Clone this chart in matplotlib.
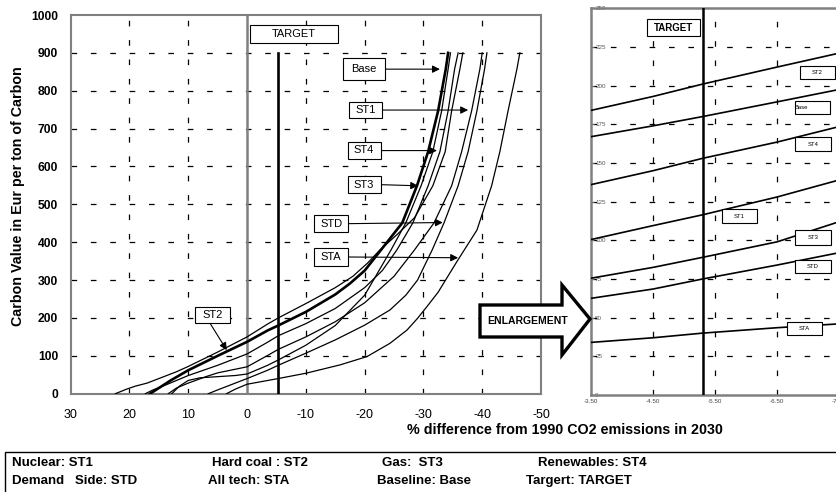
import matplotlib.pyplot as plt
from matplotlib.patches import Rectangle, Polygon

plt.rcParams['font.family'] = ['Liberation Sans', 'DejaVu Sans']

# left chart: % difference from 1990 (x) vs carbon value (y)
base_x = [16.5, 15, 13, 10, 5, 0, -3.5, -5.3, -10, -15, -17.5, -20, -22.8, -26.4, -28.9, -30.8, -32.5, -33.8, -34.2]
base_y = [0, 15, 35, 62, 100, 137, 167, 180, 216, 262, 291, 325, 380, 451, 549, 639, 747, 857, 900]
st1_x = [13.4, 12, 10, 7, 5, 0, -3.5, -5.3, -10, -15, -20, -25, -28.5, -31.8, -34.8, -36.5, -38.2, -39.6, -40.0]
st1_y = [0, 15, 28, 45, 55, 71, 101, 117, 150, 190, 240, 310, 380, 451, 549, 639, 747, 857, 900]
st2_x = [22.4, 20.5, 19, 17, 15, 12, 10, 5, 0, -3.5, -5.3, -10, -15, -18, -20.5, -22.5, -25.5, -28.5, -31.6, -33.7, -34.8, -36.2, -36.7]
st2_y = [0, 12, 20, 28, 40, 58, 72, 110, 150, 184, 200, 238, 280, 310, 345, 378, 420, 465, 549, 639, 747, 857, 900]
st3_x = [12.8, 11.5, 10, 8, 5, 2, 0, -3.5, -5.3, -10, -15, -20, -24.5, -27, -29.6, -31.6, -33.1, -34.2, -34.6]
st3_y = [0, 20, 35, 42, 45, 48, 52, 75, 89, 128, 180, 260, 380, 451, 549, 639, 747, 857, 900]
st4_x = [17.3, 16, 14, 12, 10, 5, 0, -3.5, -5.3, -10, -15, -20, -23, -25.5, -28.2, -30.8, -32.8, -34.2, -35.3, -35.9]
st4_y = [0, 10, 22, 35, 48, 75, 105, 136, 153, 185, 225, 280, 325, 380, 451, 549, 639, 747, 857, 900]
std_x = [6.6, 5, 3, 0, -3.5, -5.3, -10, -15, -20, -24.3, -27, -29, -31.5, -33.5, -35.9, -37.6, -39.1, -40.4, -40.8]
std_y = [0, 10, 22, 40, 62, 75, 107, 142, 181, 221, 260, 300, 380, 451, 549, 639, 747, 857, 900]
sta_x = [3.5, 2, 0, -5.3, -10, -15.8, -20.4, -24.3, -27.2, -29, -30.6, -32.5, -35.7, -39.1, -41.6, -43, -44.4, -45.9, -46.4]
sta_y = [0, 12, 25, 40, 54, 76, 98, 133, 168, 199, 230, 268, 349, 432, 549, 639, 747, 857, 900]
target = -5.3

# right chart: enlargement
enl_x = [-3.5, -4.5, -5.3, -6.5, -7.5]
enl_st2 = [184, 193, 201, 212, 221]
enl_base = [167, 174, 180, 189.5, 197.5]
enl_st4 = [136, 145, 153, 163.5, 173.5]
enl_st1 = [100.5, 109.5, 116.5, 128, 139]
enl_st3 = [75.5, 82.5, 89, 99, 112]
enl_std = [62.5, 68.5, 75, 84, 92]
enl_sta = [34, 37, 40, 43.5, 46]

fig = plt.figure(figsize=(8.36, 4.92), dpi=100)
W, H = 836, 492

gray = '#808080'
dash = (0, (4.5, 11))

# ---------------- left chart
ax = fig.add_axes([70.7 / W, 1 - 393.7 / H, 470.3 / W, 378.7 / H])
ax.set_xlim(30, -50)
ax.set_ylim(0, 1000)
ax.set_xticks(range(30, -51, -10))
ax.set_xticklabels(['30', '20', '10', '0', '-10', '-20', '-30', '-40', '-50'])
ax.set_yticks(range(0, 1001, 100))
ax.tick_params(axis='x', length=0, pad=11, labelsize=9)
ax.tick_params(axis='y', length=0, pad=9, labelsize=8.7)
for lbl in ax.get_yticklabels():
    lbl.set_fontweight('bold')
for s in ax.spines.values():
    s.set_color(gray)
    s.set_linewidth(1.5)
for yv in range(100, 1000, 100):
    ax.axhline(yv, color='black', lw=0.9, ls=dash, zorder=1)
for xv in [20, 10, -10, -20, -30, -40]:
    ax.axvline(xv, color='black', lw=0.9, ls=dash, zorder=1)
ax.axvline(0, color=gray, lw=1.8, zorder=1)

for xs, ys in [(st1_x, st1_y), (st2_x, st2_y), (st3_x, st3_y), (st4_x, st4_y),
               (std_x, std_y), (sta_x, sta_y)]:
    ax.plot(xs, ys, color='black', lw=0.9, zorder=3)
ax.plot(base_x, base_y, color='black', lw=1.9, zorder=4)
ax.plot([target, target], [0, 900], color='black', lw=1.9, zorder=4)


def label_box(a, x0, x1, y0, y1, text, size=8, weight='normal', lw=0.8, ha='center'):
    a.add_patch(Rectangle((x0, y0), x1 - x0, y1 - y0, fc='white', ec='black',
                          lw=lw, zorder=6))
    tx = (x0 + x1) / 2 if ha == 'center' else x0
    a.text(tx, (y0 + y1) / 2, text, ha=ha, va='center', fontsize=size,
           fontweight=weight, zorder=7)


def arrow(a, start, end):
    a.annotate('', xy=end, xytext=start, zorder=5,
               arrowprops=dict(arrowstyle='-|>', color='black', lw=0.8,
                               mutation_scale=11, shrinkA=0, shrinkB=0))


label_box(ax, -0.5, -15.5, 926, 974, 'TARGET')
label_box(ax, -16.3, -23.5, 828, 886, 'Base')
arrow(ax, (-23.5, 857), (-32.8, 857))
label_box(ax, -17.3, -22.9, 727, 771, 'ST1')
arrow(ax, (-22.9, 749), (-37.6, 749))
label_box(ax, -17.1, -22.7, 620, 665, 'ST4')
arrow(ax, (-22.7, 642), (-32.3, 642))
label_box(ax, -17.1, -22.7, 529, 575, 'ST3')
arrow(ax, (-22.7, 552), (-29.1, 549))
label_box(ax, -11.4, -17.2, 426, 472, 'STD')
arrow(ax, (-17.2, 449), (-33.3, 452))
label_box(ax, -11.4, -17.2, 338, 384, 'STA')
arrow(ax, (-17.2, 361), (-35.9, 359))
label_box(ax, 8.8, 2.9, 186, 230, 'ST2')
arrow(ax, (6.3, 186), (3.45, 115))

# ---------------- right chart (enlargement)
ax2 = fig.add_axes([591 / W, 1 - 395 / H, 279 / W, 386.7 / H])
ax2.set_xlim(-3.5, -8.0)
ax2.set_ylim(0, 250)
ax2.set_xticks([-3.5, -4.5, -5.5, -6.5, -7.5])
ax2.set_xticklabels(['-3.50', '-4.50', '-5.50', '-6.50', '-7.50'])
ax2.set_yticks(range(0, 251, 25))
ax2.tick_params(axis='x', length=0, pad=3, labelsize=4.5, labelcolor='#444444')
ax2.tick_params(axis='y', direction='in', length=2, width=0.6, color=gray,
                pad=-3, labelsize=4.5, labelcolor='#555555')
for lbl in ax2.get_yticklabels():
    lbl.set_ha('left')
for s in ax2.spines.values():
    s.set_color(gray)
    s.set_linewidth(1.8)
for yv in range(25, 250, 25):
    ax2.axhline(yv, color='black', lw=0.9, ls=dash, zorder=1)
for xv in [-4.5, -5.5, -6.5, -7.5]:
    ax2.axvline(xv, color='black', lw=0.9, ls=dash, zorder=1)

for ys in [enl_st2, enl_base, enl_st4, enl_st1, enl_st3, enl_std, enl_sta]:
    ax2.plot(enl_x, ys, color='black', lw=1.2, zorder=3)
ax2.axvline(target, color='black', lw=1.8, zorder=4)

label_box(ax2, -4.40, -5.26, 232, 243, 'TARGET', size=7, weight='bold')
label_box(ax2, -6.87, -7.44, 204, 212.5, 'ST2', size=4.2)
label_box(ax2, -6.79, -7.36, 181.5, 190, 'Base', size=4.2, ha='left')
label_box(ax2, -6.79, -7.37, 157.5, 166.5, 'ST4', size=4.2)
label_box(ax2, -5.61, -6.18, 111, 120, 'ST1', size=4.2)
label_box(ax2, -6.79, -7.37, 97, 106.5, 'ST3', size=4.2)
label_box(ax2, -6.79, -7.37, 79, 87, 'STD', size=4.2)
label_box(ax2, -6.66, -7.23, 39, 47, 'STA', size=4.2)

# ---------------- big "ENLARGEMENT" arrow
pts = [(480, 305), (562, 305), (562, 285), (590, 319), (562, 355), (562, 337), (480, 337)]
fig.patches.append(Polygon([(x / W, 1 - y / H) for x, y in pts], closed=True,
                           transform=fig.transFigure, fc='white', ec='black',
                           lw=2.4, joinstyle='miter', zorder=10))
fig.text(528 / W, 1 - 321 / H, 'ENLARGEMENT', ha='center', va='center',
         fontsize=7.5, fontweight='bold', zorder=11)

# axis titles
fig.text(565 / W, 1 - 430 / H, '% difference from 1990 CO2 emissions in 2030',
         ha='center', va='center', fontsize=10.3, fontweight='bold')
fig.text(18 / W, 1 - 196 / H, 'Carbon Value in Eur per ton of Carbon',
         ha='center', va='center', rotation=90, fontsize=10.3, fontweight='bold')

# legend box at the bottom
fig.patches.append(Rectangle((5 / W, 1 - 500 / H), 840 / W, 48 / H,
                             transform=fig.transFigure, fc='white', ec='black',
                             lw=1.0, zorder=1))
legend_rows = [
    [(12, 'Nuclear: ST1'), (212, 'Hard coal : ST2'), (382, 'Gas:  ST3'), (538, 'Renewables: ST4')],
    [(12, 'Demand   Side: STD'), (208, 'All tech: STA'), (377, 'Baseline: Base'), (526, 'Targert: TARGET')],
]
for row_y, row in zip([463, 481], legend_rows):
    for x, txt in row:
        fig.text(x / W, 1 - row_y / H, txt, ha='left', va='center',
                 fontsize=9.5, fontweight='bold', zorder=2)

fig.savefig('out.png', dpi=100)
